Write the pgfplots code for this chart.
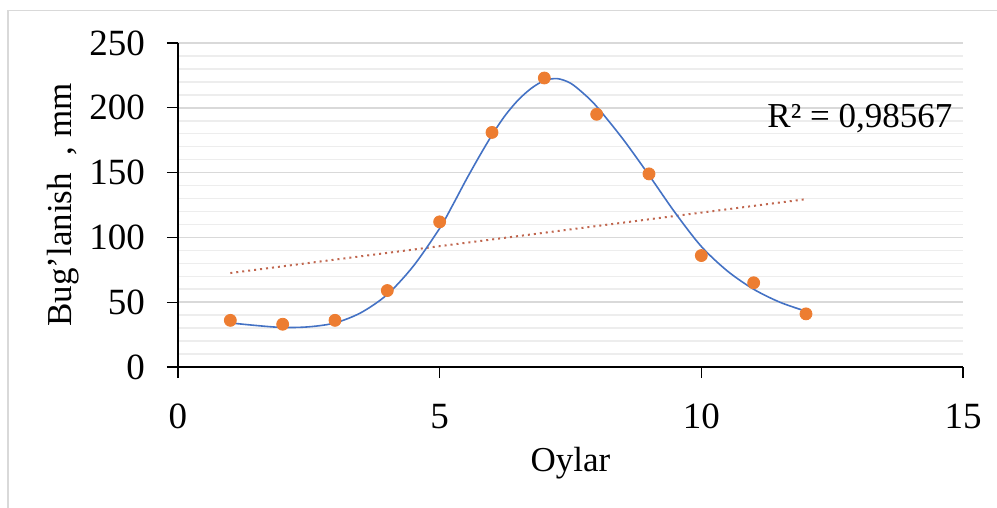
\documentclass[border=0pt]{standalone}
\usepackage{fontspec}
\setmainfont{Liberation Serif}
\usepackage{pgfplots}
\pgfplotsset{compat=1.18}
\definecolor{ptorange}{HTML}{ED7D31}
\definecolor{curveblue}{HTML}{4472C4}
\definecolor{majgrid}{HTML}{D9D9D9}
\definecolor{mingrid}{HTML}{EDEDED}
\definecolor{trendred}{HTML}{C0664E}
\definecolor{framegray}{HTML}{D9D9D9}

\begin{document}
\begin{tikzpicture}
  \path[use as bounding box] (0,0) rectangle (498.5pt,-254pt);
  \draw[framegray, line width=0.75pt] (4pt,-254pt) -- (4pt,-5.25pt) -- (498.5pt,-5.25pt);
  \begin{axis}[
    at={(89pt,-183.5pt)}, anchor=south west,
    scale only axis, width=392.5pt, height=162pt,
    xmin=0, xmax=15, ymin=0, ymax=250,
    xtick={0,5,10,15}, ytick={0,50,...,250},
    minor y tick num=4,
    axis x line*=bottom, axis y line*=left,
    axis line style={black, line width=0.6pt},
    tick align=outside, major tick length=5.5pt, minor tick length=0pt,
    tick style={black, line width=0.6pt},
    ymajorgrids, yminorgrids,
    major grid style={majgrid, line width=0.75pt},
    minor grid style={mingrid, line width=0.75pt},
    ticklabel style={font=\fontsize{18.5}{22}\selectfont},
    xticklabel style={yshift=-9.5pt},
    yticklabel style={xshift=-7.5pt},
    /pgf/number format/assume math mode=true,
    label style={font=\fontsize{17.5}{21}\selectfont},
    xlabel={Oylar}, ylabel={Bug'lanish\ \ , mm},
    xlabel style={at={(axis description cs:0.5,-0.296)}, anchor=center},
    ylabel style={at={(axis description cs:-0.146,0.5)}, anchor=center},
    clip=false,
  ]
    % linear trend
    \addplot[trendred, dotted, line width=1pt] coordinates {
      (1, 72.5) (12, 129.5)
    };
    % polynomial trend
    \addplot[curveblue, line width=0.8pt, smooth] coordinates {
      (1, 34) (1.5, 32) (2, 30.5) (2.5, 31) (3, 34) (3.5, 42)
      (4, 56) (4.5, 78) (5, 107) (5.25, 125) (5.5, 144) (5.75, 162)
      (6, 179) (6.25, 194) (6.5, 206) (6.75, 215) (7, 221) (7.25, 222.5)
      (7.5, 219) (7.75, 211) (8, 201) (8.5, 176) (9, 148) (9.5, 119)
      (10, 93) (10.5, 74) (11, 60) (11.5, 50) (12, 43)
    };
    % measured
    \addplot[only marks, mark=*, mark size=3pt, ptorange,
             mark options={draw=ptorange, fill=ptorange}] coordinates {
      (1, 36) (2, 33) (3, 36) (4, 59) (5, 112) (6, 181)
      (7, 223) (8, 195) (9, 149) (10, 86) (11, 65) (12, 41)
    };
    \node[font=\fontsize{17.5}{21}\selectfont] at (axis cs:13.03,192) {R² = 0,98567};
  \end{axis}
\end{tikzpicture}
\end{document}
